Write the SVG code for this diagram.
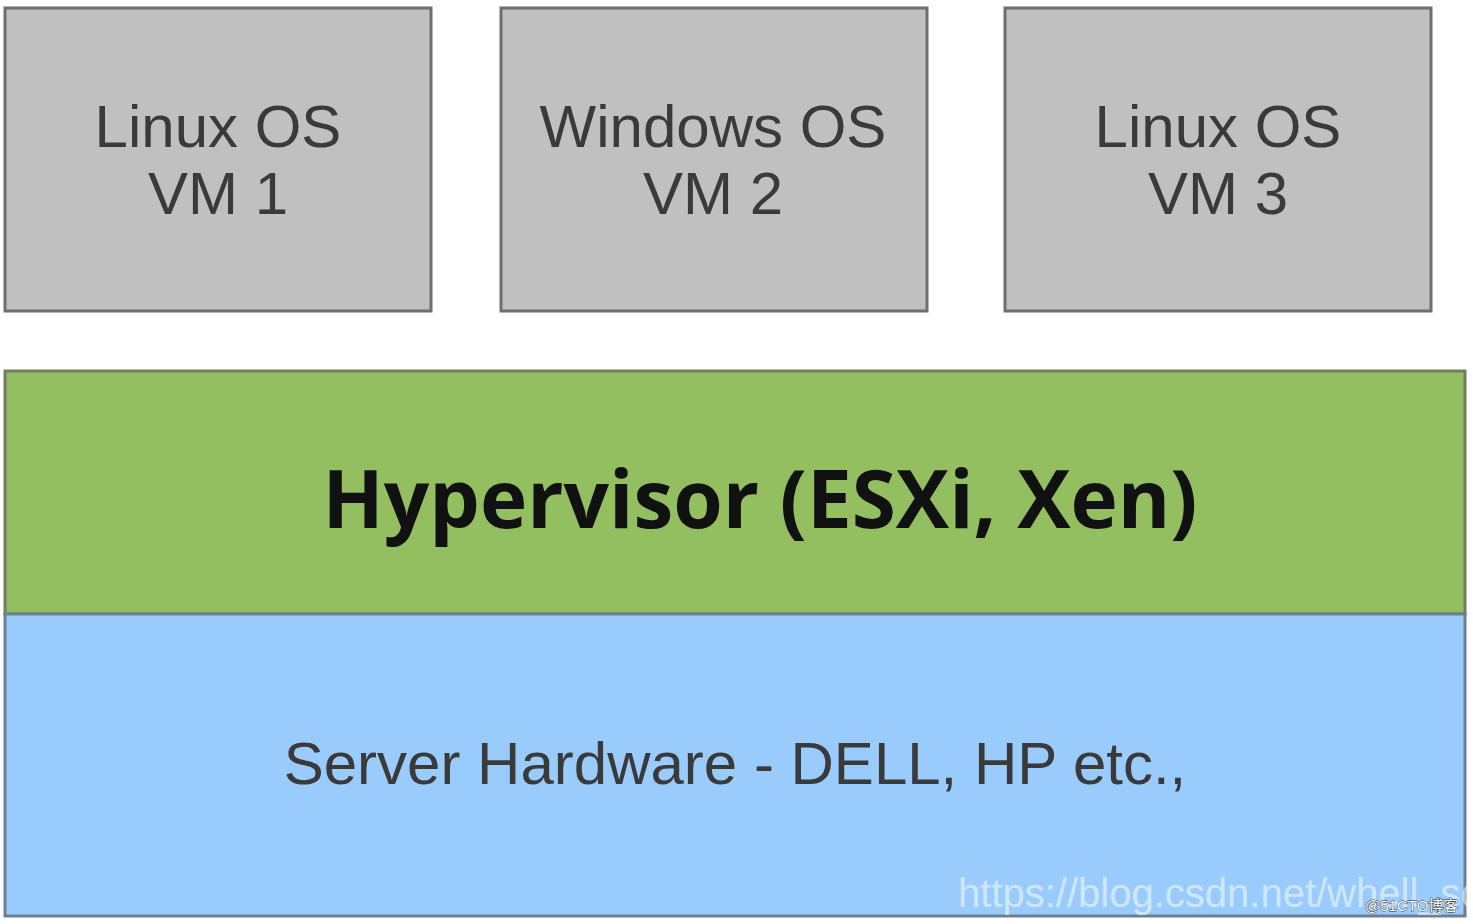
<svg xmlns="http://www.w3.org/2000/svg" width="1473" height="924" viewBox="0 0 1473 924">
<style>
.vm{fill:#c0c0c0;stroke:#6f6f6f;stroke-width:3}
.vt{font-family:"Liberation Sans",Arial,sans-serif;font-size:60px;fill:#3a3a3a;text-anchor:middle}
</style>
<rect width="1473" height="924" fill="#fff"/>
<g id="vm1"><rect class="vm" x="5" y="8" width="426" height="303"/><text class="vt" x="218" y="147">Linux OS</text><text class="vt" x="218" y="214">VM 1</text></g>
<g id="vm2"><rect class="vm" x="501" y="8" width="426" height="303"/><text class="vt" x="713" y="147">Windows OS</text><text class="vt" x="713" y="214">VM 2</text></g>
<g id="vm3"><rect class="vm" x="1005" y="8" width="426" height="303"/><text class="vt" x="1218" y="147">Linux OS</text><text class="vt" x="1218" y="214">VM 3</text></g>
<g id="hypervisor"><rect x="5" y="371" width="1460" height="243" fill="#93bf60" stroke="#6f7f5f" stroke-width="3"/><text x="760" y="528" font-family="'Open Sans','DejaVu Sans',sans-serif" font-weight="bold" font-size="80" fill="#111" text-anchor="middle">Hypervisor (ESXi, Xen)</text></g>
<g id="hardware"><rect x="5" y="614" width="1460" height="302" fill="#99ccfc" stroke="#6f7f8f" stroke-width="3"/><text x="735" y="784" font-family="'Liberation Sans',Arial,sans-serif" font-size="60" fill="#3a3a3a" text-anchor="middle">Server Hardware - DELL, HP etc.,</text></g>
<g id="connectors"></g>
<text x="958" y="907" font-family="'Liberation Sans',Arial,sans-serif" font-size="40" fill="#ffffff" fill-opacity="0.55">https://blog.csdn.net/whell_sc</text>
<text x="1365" y="911" font-family="'Liberation Sans','Noto Sans CJK SC',sans-serif" font-size="15" fill="#fff" stroke="#222" stroke-width="0.8" paint-order="stroke">@51CTO博客</text>
</svg>
